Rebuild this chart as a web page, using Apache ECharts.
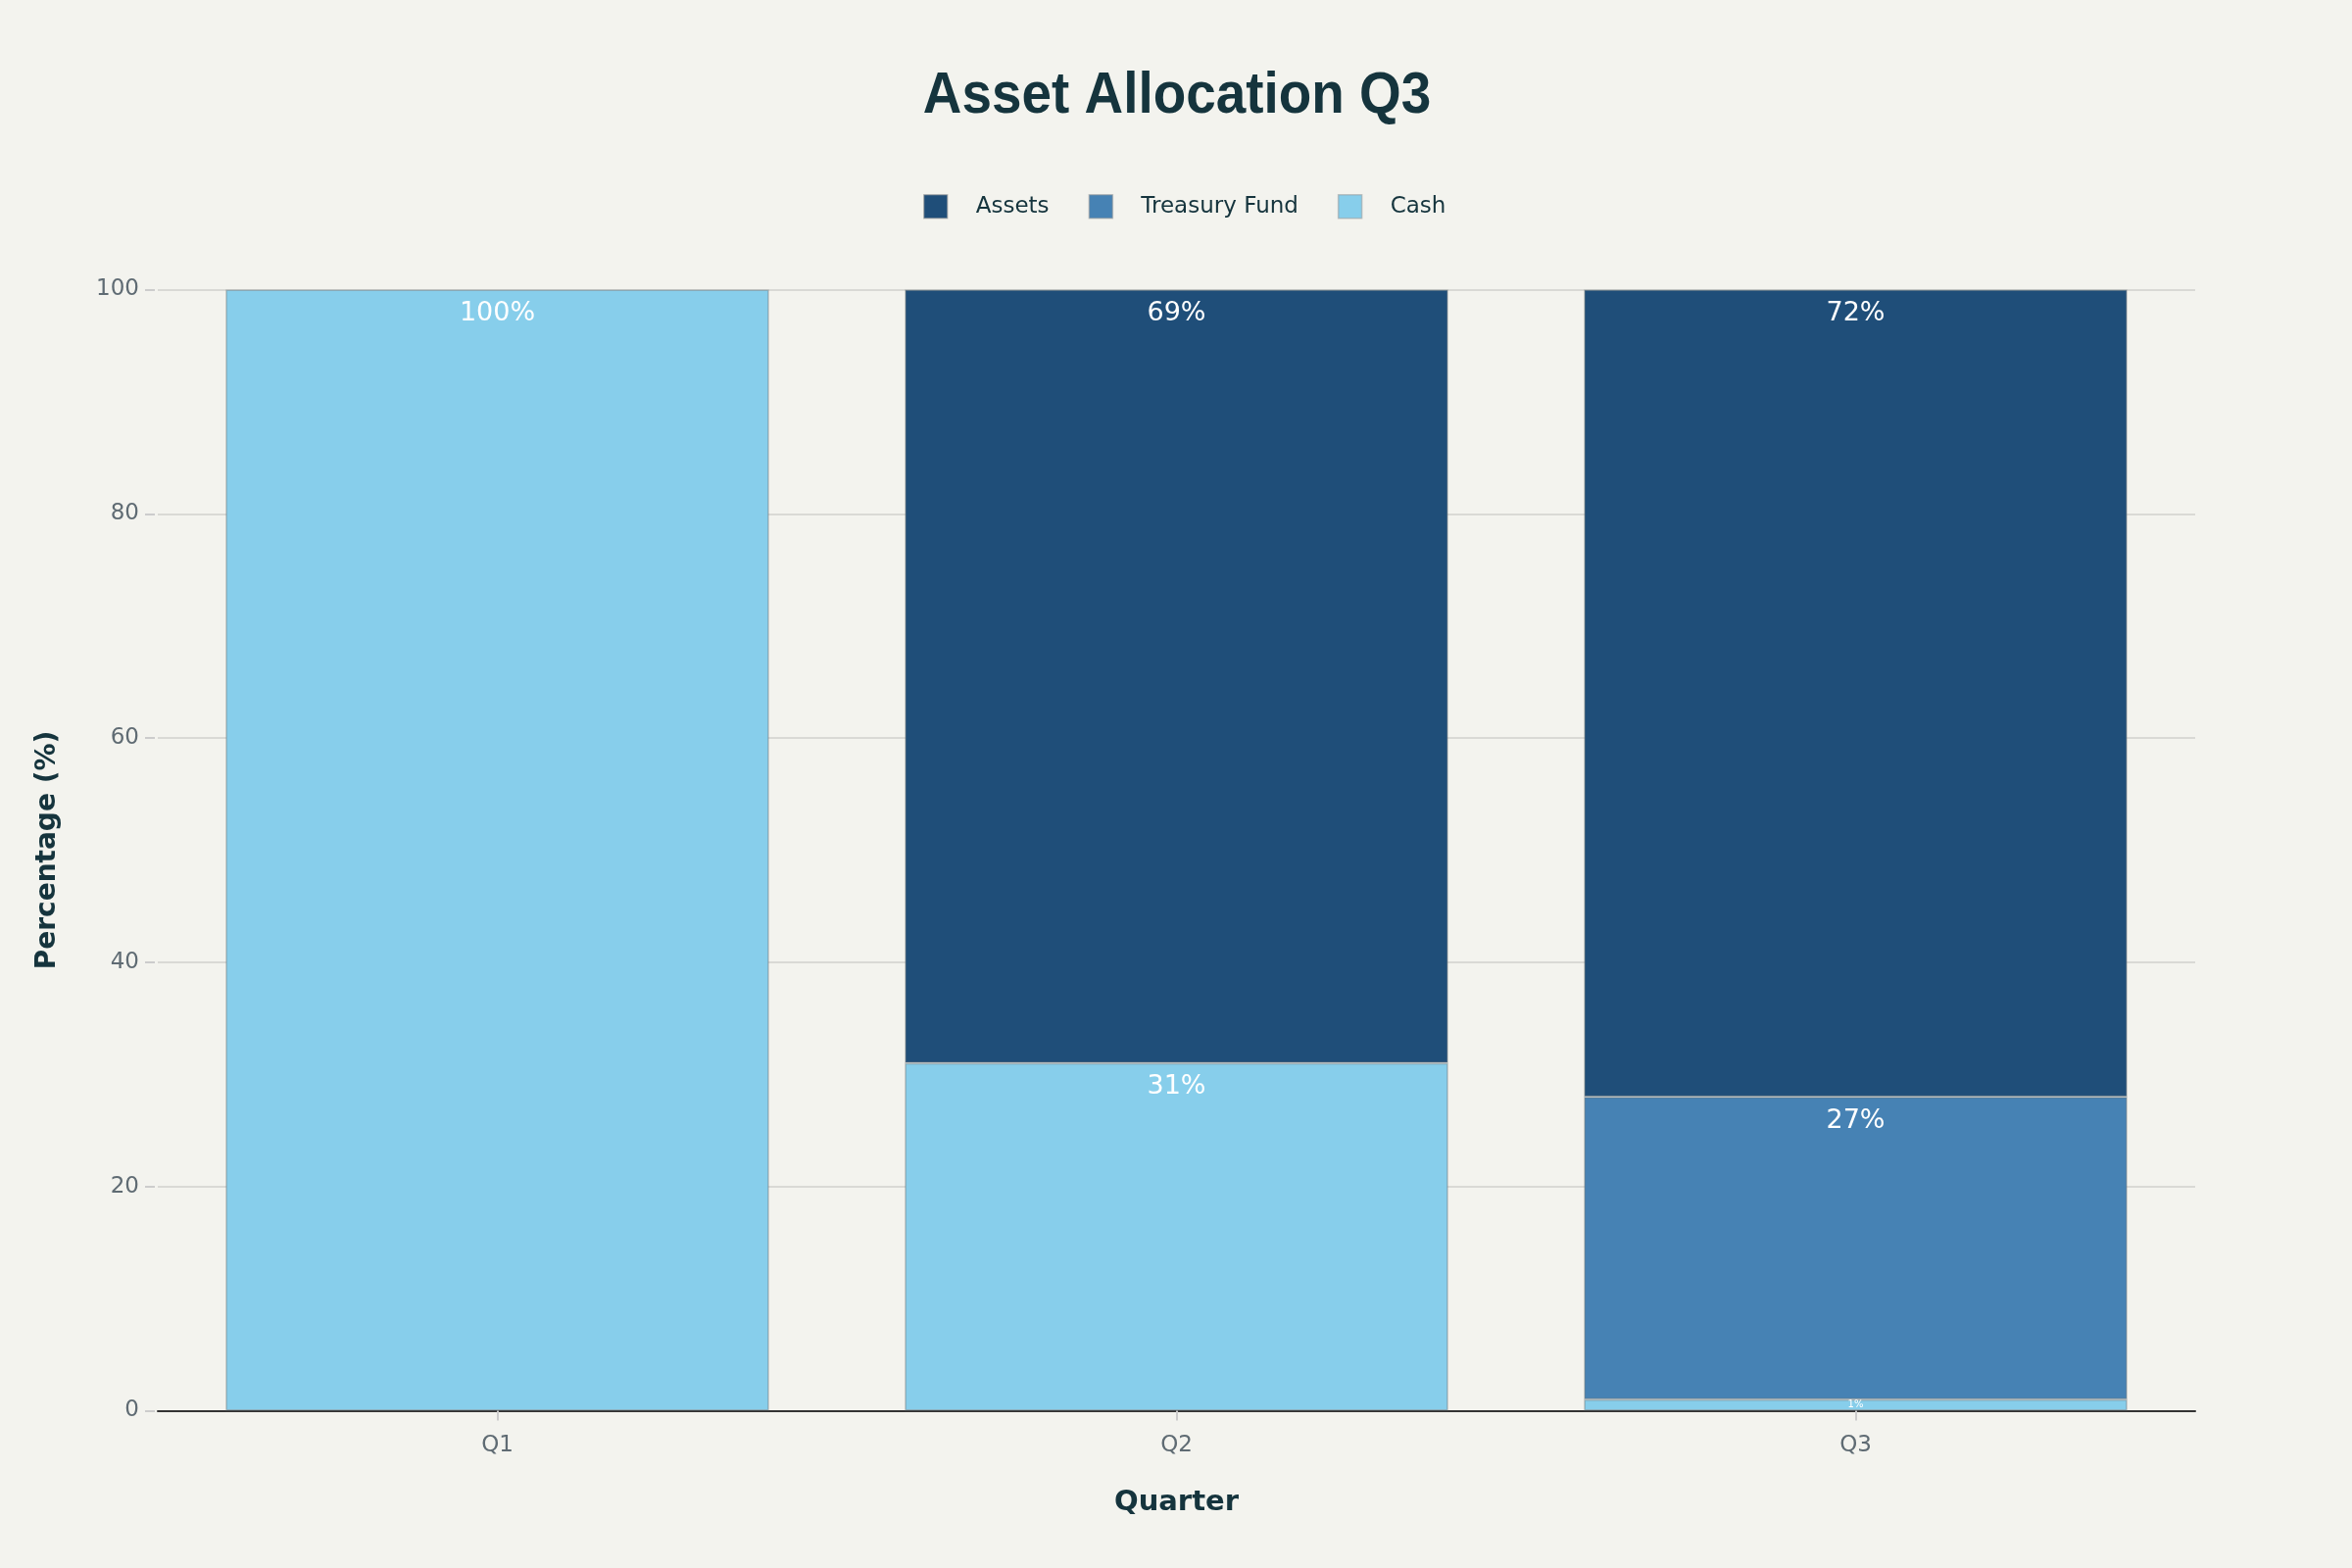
<!DOCTYPE html>
<html>
<head>
<meta charset="utf-8">
<script src="https://cdn.jsdelivr.net/npm/echarts@6/dist/echarts.min.js"></script>
<style>
html,body{margin:0;padding:0;background:#f3f3ee;}
#chart{width:2400px;height:1600px;}
</style>
</head>
<body>
<div id="chart"></div>
<script>
const categories = ['Q1', 'Q2', 'Q3'];
const assets = [0, 69, 72];
const treasury = [0, 0, 27];
const cash = [100, 31, 1];
const legendOrder = ['Assets', 'Treasury Fund', 'Cash'];
const titleText = 'Asset Allocation Q3';

const colors = { 'Assets': '#1f4e79', 'Treasury Fund': '#4682b4', 'Cash': '#87ceeb' };
const darkText = '#15343d';

function toData(arr) {
  return arr.map(v => {
    if (v === 0) return '-';
    if (v < 3) return { value: v, label: { fontSize: 10, position: 'inside' } };
    return v;
  });
}

function makeSeries(name, arr) {
  return {
    name: name,
    type: 'bar',
    stack: 'total',
    barWidth: '80%',
    data: toData(arr),
    itemStyle: { color: colors[name], borderColor: 'rgba(110,120,125,0.45)', borderWidth: 1.5 },
    label: {
      show: true,
      position: 'insideTop',
      distance: 11,
      color: '#ffffff',
      fontFamily: 'DejaVu Sans',
      fontSize: 27,
      formatter: p => (p.value ? p.value + '%' : '')
    },
    emphasis: { disabled: true }
  };
}

const chart = echarts.init(document.getElementById('chart'));
chart.setOption({
  backgroundColor: '#f3f3ee',
  animation: false,
  color: [colors['Cash'], colors['Treasury Fund'], colors['Assets']],
  graphic: [{
    type: 'text',
    x: 1201,
    y: 99,
    scaleX: 0.93,
    style: {
      text: titleText,
      fontFamily: 'Liberation Sans',
      fontWeight: 'bold',
      fontSize: 59,
      fill: darkText,
      align: 'center',
      verticalAlign: 'middle'
    }
  }],
  legend: {
    data: legendOrder,
    top: 193,
    left: 937,
    icon: 'rect',
    itemWidth: 24,
    itemHeight: 24,
    itemGap: 40,
    itemStyle: { borderColor: 'rgba(150,150,150,0.5)', borderWidth: 1.5 },
    textStyle: { fontFamily: 'DejaVu Sans', fontSize: 23, color: darkText, padding: [0, 0, 0, 24] }
  },
  grid: { left: 161, right: 160, top: 295.5, bottom: 160.5, containLabel: false },
  xAxis: {
    type: 'category',
    data: categories,
    name: 'Quarter',
    nameLocation: 'middle',
    nameGap: 79,
    nameTextStyle: { fontFamily: 'DejaVu Sans', fontWeight: 'bold', fontSize: 29, color: darkText },
    axisLine: { show: true, lineStyle: { color: '#333333', width: 2 } },
    axisTick: { show: true, alignWithLabel: true, length: 10, lineStyle: { color: '#cccccc', width: 2 } },
    axisLabel: { fontFamily: 'DejaVu Sans', fontSize: 23, color: '#5f6b73', margin: 24 }
  },
  yAxis: {
    type: 'value',
    min: 0,
    max: 100,
    interval: 20,
    offset: 3,
    name: 'Percentage (%)',
    nameLocation: 'middle',
    nameGap: 95,
    nameTextStyle: { fontFamily: 'DejaVu Sans', fontWeight: 'bold', fontSize: 28, color: darkText },
    axisLine: { show: false },
    axisTick: { show: true, length: 10, lineStyle: { color: '#cccccc', width: 2 } },
    axisLabel: { fontFamily: 'DejaVu Sans', fontSize: 23, color: '#5f6b73', margin: 16 },
    splitLine: { show: true, lineStyle: { color: '#d9d9d5', width: 2 } }
  },
  series: [
    makeSeries('Cash', cash),
    makeSeries('Treasury Fund', treasury),
    makeSeries('Assets', assets)
  ]
});
</script>
</body>
</html>
